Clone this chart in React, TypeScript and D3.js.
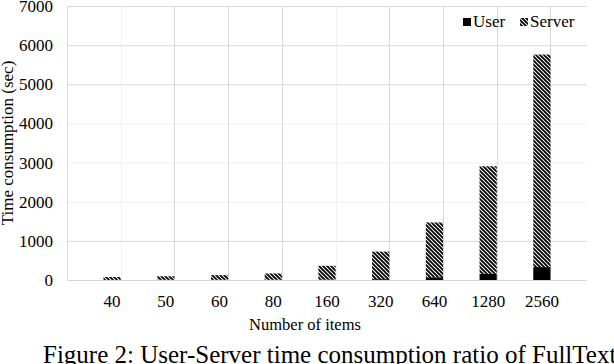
import { useEffect, useRef } from "react";
import * as d3 from "d3";

const ITEMS = ["40", "50", "60", "80", "160", "320", "640", "1280", "2560"];
const USER_TIME = [3, 4, 5, 6, 12, 22, 70, 155, 330];
const SERVER_TIME = [72, 91, 120, 160, 350, 703, 1400, 2750, 5430];
const Y_TICKS = [0, 1000, 2000, 3000, 4000, 5000, 6000, 7000];

const FONT = "'Liberation Serif', 'DejaVu Serif', serif";

export default function App() {
  const svgRef = useRef<SVGSVGElement>(null);

  useEffect(() => {
    if (!svgRef.current) return;
    const width = 614;
    const height = 364;
    const margin = { top: 6, right: 27, bottom: 84, left: 67 };
    const innerW = width - margin.left - margin.right;
    const innerH = height - margin.top - margin.bottom;

    const svg = d3.select(svgRef.current);
    svg.selectAll("*").remove();
    svg.attr("width", width).attr("height", height);

    const defs = svg.append("defs");
    const pat = defs
      .append("pattern")
      .attr("id", "hatch")
      .attr("patternUnits", "userSpaceOnUse")
      .attr("width", 4)
      .attr("height", 4);
    pat.append("rect").attr("width", 4).attr("height", 4).attr("fill", "#fff");
    pat
      .append("path")
      .attr("d", "M-1,-1 L5,5 M-1,3 L1,5 M3,-1 L5,1")
      .attr("stroke", "#000")
      .attr("stroke-width", 1.9);

    const g = svg.append("g").attr("transform", `translate(${margin.left},${margin.top})`);

    const x = d3.scaleBand().domain(ITEMS).range([0, innerW]).padding(0.68);
    const y = d3.scaleLinear().domain([0, 7000]).range([innerH, 0]);
    const step = x.step();

    // grid
    const faintY = new Set([2000, 3000, 4000]);
    g.selectAll("line.hgrid")
      .data(Y_TICKS)
      .enter()
      .append("line")
      .attr("x1", 0)
      .attr("x2", innerW)
      .attr("y1", (d) => y(d) + 0.5)
      .attr("y2", (d) => y(d) + 0.5)
      .attr("stroke", (d) => (faintY.has(d) ? "#efefef" : "#d9d9d9"));

    const bounds = d3.range(ITEMS.length + 1);
    g.selectAll("line.vgrid")
      .data(bounds)
      .enter()
      .append("line")
      .attr("x1", (i) => Math.round(i * step) + 0.5)
      .attr("x2", (i) => Math.round(i * step) + 0.5)
      .attr("y1", 0)
      .attr("y2", innerH)
      .attr("stroke", (i) => (i === 1 || i === 5 ? "#efefef" : "#d9d9d9"));

    // bars
    const data = ITEMS.map((k, i) => ({ k, user: USER_TIME[i], server: SERVER_TIME[i] }));
    g.selectAll("rect.user")
      .data(data)
      .enter()
      .append("rect")
      .attr("x", (d) => x(d.k) ?? 0)
      .attr("width", x.bandwidth())
      .attr("y", (d) => y(d.user))
      .attr("height", (d) => y(0) - y(d.user))
      .attr("fill", "#000");
    g.selectAll("rect.server")
      .data(data)
      .enter()
      .append("rect")
      .attr("x", (d) => x(d.k) ?? 0)
      .attr("width", x.bandwidth())
      .attr("y", (d) => y(d.user + d.server))
      .attr("height", (d) => y(d.user) - y(d.user + d.server))
      .attr("fill", "url(#hatch)");

    // y tick labels
    g.selectAll("text.ytick")
      .data(Y_TICKS)
      .enter()
      .append("text")
      .attr("x", -14)
      .attr("y", (d) => y(d) + 6)
      .attr("text-anchor", "end")
      .attr("font-family", FONT)
      .attr("font-size", 17)
      .text((d) => d);

    // x tick labels
    g.selectAll("text.xtick")
      .data(ITEMS)
      .enter()
      .append("text")
      .attr("x", (d) => (x(d) ?? 0) + x.bandwidth() / 2)
      .attr("y", innerH + 27)
      .attr("text-anchor", "middle")
      .attr("font-family", FONT)
      .attr("font-size", 17)
      .text((d) => d);

    // axis titles
    svg
      .append("text")
      .attr("transform", `translate(13,${margin.top + innerH / 2}) rotate(-90)`)
      .attr("text-anchor", "middle")
      .attr("font-family", FONT)
      .attr("font-size", 17)
      .text("Time consumption (sec)");

    svg
      .append("text")
      .attr("x", 305)
      .attr("y", 330)
      .attr("text-anchor", "middle")
      .attr("font-family", FONT)
      .attr("font-size", 16.5)
      .text("Number of items");

    // legend
    const lg = svg.append("g").attr("transform", "translate(463,27)");
    lg.append("rect").attr("x", 0).attr("y", -9).attr("width", 8).attr("height", 8).attr("fill", "#000");
    lg.append("text")
      .attr("x", 10)
      .attr("y", 0)
      .attr("font-family", FONT)
      .attr("font-size", 17)
      .text("User");
    lg.append("rect").attr("x", 57).attr("y", -9).attr("width", 8).attr("height", 8).attr("fill", "url(#hatch)");
    lg.append("text")
      .attr("x", 67)
      .attr("y", 0)
      .attr("font-family", FONT)
      .attr("font-size", 17)
      .text("Server");

    // caption
    svg
      .append("text")
      .attr("x", 43)
      .attr("y", 363)
      .attr("font-family", FONT)
      .attr("font-size", 25)
      .text("Figure 2: User-Server time consumption ratio of FullText");
  }, []);

  return (
    <div style={{ position: "absolute", left: 0, top: 0 }}>
      <svg ref={svgRef} style={{ display: "block" }} />
    </div>
  );
}
